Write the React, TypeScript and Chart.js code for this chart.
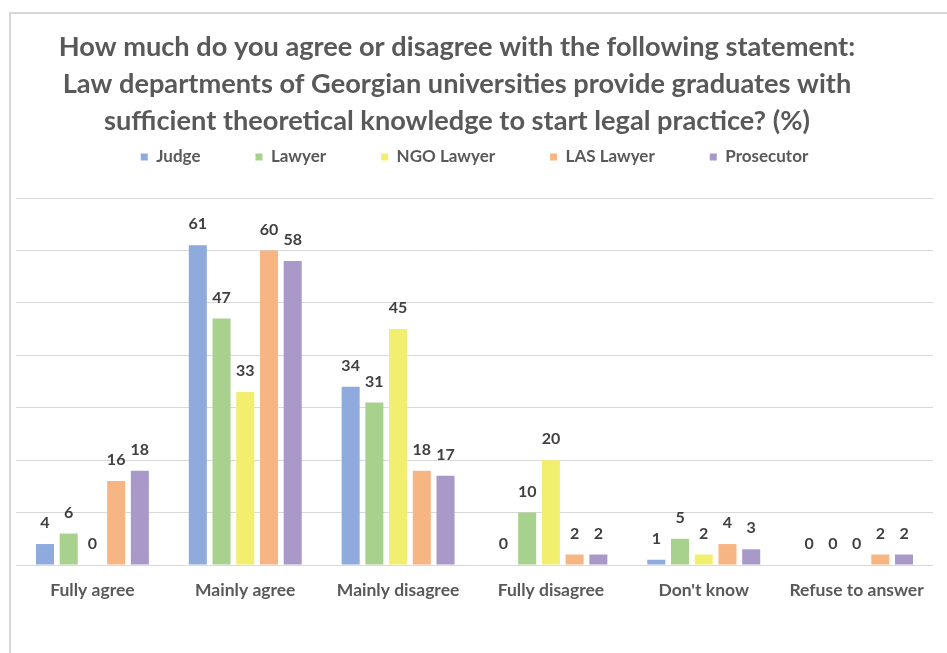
import React, { useEffect, useRef } from "react";
import { Chart, registerables } from "chart.js";

Chart.register(...registerables);

const TITLE_LINES = [
  "How much do you agree or disagree with the following statement:",
  "Law departments of Georgian universities provide graduates with",
  "sufficient theoretical knowledge to start legal practice? (%)",
];

const CATEGORIES = [
  "Fully agree",
  "Mainly agree",
  "Mainly disagree",
  "Fully disagree",
  "Don't know",
  "Refuse to answer",
];

const SERIES_NAMES = ["Judge", "Lawyer", "NGO Lawyer", "LAS Lawyer", "Prosecutor"];

const JUDGE = [4, 61, 34, 0, 1, 0];
const LAWYER = [6, 47, 31, 10, 5, 0];
const NGO_LAWYER = [0, 33, 45, 20, 2, 0];
const LAS_LAWYER = [16, 60, 18, 2, 4, 2];
const PROSECUTOR = [18, 58, 17, 2, 3, 2];

const COLORS = ["#8faadc", "#a9d18e", "#f3ef6e", "#f8b584", "#a899c9"];

const Y_MIN = 0;
const Y_MAX = 70;
const Y_STEP = 10;

const TEXT_GREY = "#595959";
const LABEL_DARK = "#404040";
const GRID = "#d9d9d9";

const framePlugin = {
  id: "frame",
  beforeDraw(chart: any) {
    const ctx = chart.ctx;
    ctx.save();
    ctx.fillStyle = "#ffffff";
    ctx.fillRect(0, 0, chart.width, chart.height);
    ctx.fillStyle = "#d6d6d6";
    ctx.fillRect(9, 12, 2, chart.height - 12);
    ctx.fillRect(9, 12, chart.width - 9, 2);
    ctx.restore();
  },
};

const titlePlugin = {
  id: "customTitle",
  afterDraw(chart: any) {
    const ctx = chart.ctx;
    ctx.save();
    ctx.font = "bold 27.2px Lato";
    ctx.fillStyle = TEXT_GREY;
    ctx.textAlign = "center";
    ctx.textBaseline = "middle";
    TITLE_LINES.forEach((line, i) => {
      ctx.fillText(line, 457, 47 + i * 37);
    });
    ctx.restore();
  },
};

const legendSpacer = {
  id: "legendSpacer",
  afterInit(chart: any) {
    const legend = chart.legend;
    if (legend && !legend.__spaced) {
      const orig = legend.fit;
      legend.fit = function () {
        orig.call(this);
        this.height += 22.5;
      };
      legend.__spaced = true;
    }
  },
};

const dataLabels = {
  id: "dataLabels",
  afterDatasetsDraw(chart: any) {
    const ctx = chart.ctx;
    ctx.save();
    ctx.font = "bold 16px Lato";
    ctx.fillStyle = LABEL_DARK;
    ctx.textAlign = "center";
    ctx.textBaseline = "middle";
    chart.data.datasets.forEach((ds: any, di: number) => {
      const meta = chart.getDatasetMeta(di);
      meta.data.forEach((el: any, i: number) => {
        ctx.fillText(String(ds.data[i]), el.x, el.y - 21);
      });
    });
    ctx.restore();
  },
};

export default function App() {
  const ref = useRef<HTMLCanvasElement | null>(null);

  useEffect(() => {
    if (!ref.current) return;
    const seriesData = [JUDGE, LAWYER, NGO_LAWYER, LAS_LAWYER, PROSECUTOR];
    const chart = new Chart(ref.current, {
      type: "bar",
      data: {
        labels: CATEGORIES,
        datasets: SERIES_NAMES.map((name, i) => ({
          label: name,
          data: seriesData[i],
          backgroundColor: COLORS[i],
          borderWidth: 0,
          categoryPercentage: 0.776,
          barPercentage: 0.76,
        })),
      },
      options: {
        animation: false,
        responsive: false,
        layout: { padding: { top: 93.5, left: 16, right: 14, bottom: 37 } },
        plugins: {
          title: { display: false },
          tooltip: { enabled: false },
          legend: {
            display: true,
            position: "top",
            labels: {
              boxWidth: 7,
              boxHeight: 7,
              padding: 55,
              color: TEXT_GREY,
              font: { family: "Lato", weight: "bold", size: 17 },
            },
          },
        },
        scales: {
          x: {
            grid: { display: false, drawTicks: false },
            border: { display: false },
            ticks: {
              color: TEXT_GREY,
              padding: 15,
              font: { family: "Lato", weight: "bold", size: 17.5 },
            },
          },
          y: {
            min: Y_MIN,
            max: Y_MAX,
            ticks: { display: false, stepSize: Y_STEP },
            grid: { color: GRID, lineWidth: 1, drawTicks: false },
            border: { display: false },
          },
        },
      },
      plugins: [framePlugin, titlePlugin, legendSpacer, dataLabels],
    });
    return () => chart.destroy();
  }, []);

  return (
    <canvas
      ref={ref}
      width={947}
      height={653}
      style={{ position: "fixed", left: 0, top: 0, width: 947, height: 653 }}
    />
  );
}
